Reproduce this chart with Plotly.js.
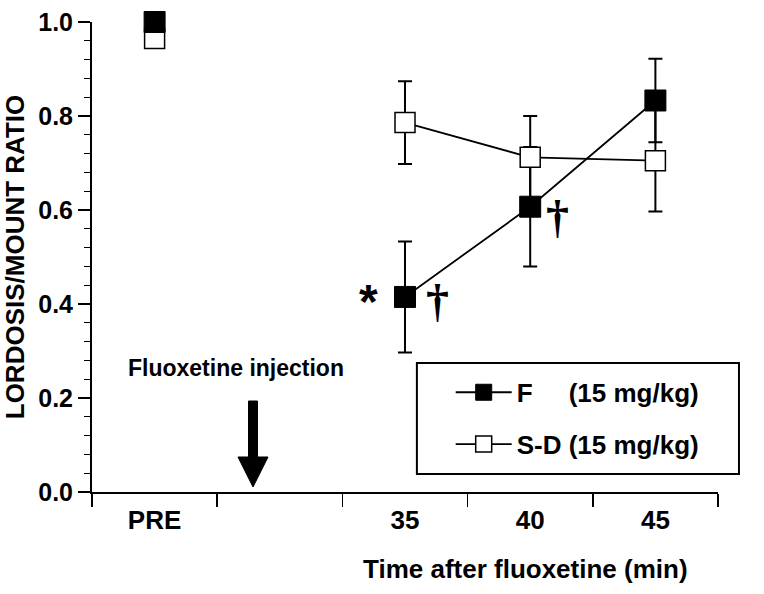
<!DOCTYPE html>
<html>
<head>
<meta charset="utf-8">
<script src="https://cdn.plot.ly/plotly-3.0.1.min.js"></script>
<style>html,body{margin:0;padding:0;background:#fff;}</style>
</head>
<body>
<div id="chart" style="width:764px;height:594px;"></div>
<script>
// ---- data ----
const tickLabels = ['PRE', '35', '40', '45'];
const slotOrder = ['PRE', 'inj', '35', '40', '45']; // x slots, incl. the injection period
const times = ['35', '40', '45'];
const fPre = 1.0;
const sdPre = 0.965;
const fMean = [0.415, 0.607, 0.833];
const fErr = [0.118, 0.127, 0.089];
const sdMean = [0.786, 0.712, 0.705];
const sdErr = [0.088, 0.088, 0.108];
const fName = 'F\u00A0\u00A0\u00A0\u00A0\u00A0(15 mg/kg)';
const sdName = 'S-D (15 mg/kg)';

const pos = c => slotOrder.indexOf(c) + 0.5;
const tx = times.map(pos);

const FONT = 'Liberation Sans, Arial, Helvetica, sans-serif';
const SERIF = 'Liberation Serif, Times New Roman, serif';

const errStyle = arr => ({type: 'data', array: arr, visible: true, color: '#000', thickness: 2, width: 7});
const hidden = {size: 1, color: 'rgba(0,0,0,0)'};

const traces = [
  {x: tx, y: sdMean, mode: 'markers', marker: hidden, error_y: errStyle(sdErr), showlegend: false, hoverinfo: 'skip', cliponaxis: false},
  {x: tx, y: fMean, mode: 'markers', marker: hidden, error_y: errStyle(fErr), showlegend: false, hoverinfo: 'skip', cliponaxis: false},
  {x: [pos('PRE')], y: [sdPre], mode: 'markers', showlegend: false, cliponaxis: false,
   marker: {symbol: 'square', size: 20, color: '#fff', line: {color: '#000', width: 1.5}}},
  {x: tx, y: sdMean, mode: 'lines+markers', name: sdName, legendgroup: 'sd', legendrank: 2, cliponaxis: false,
   line: {color: '#000', width: 1.8},
   marker: {symbol: 'square', size: 20, color: '#fff', line: {color: '#000', width: 1.5}}},
  {x: [pos('PRE')], y: [fPre], mode: 'markers', showlegend: false, cliponaxis: false,
   marker: {symbol: 'square', size: 21, color: '#000', line: {color: '#000', width: 1}}},
  {x: tx, y: fMean, mode: 'lines+markers', name: fName, legendgroup: 'f', legendrank: 1, cliponaxis: false,
   line: {color: '#000', width: 1.8},
   marker: {symbol: 'square', size: 21, color: '#000', line: {color: '#000', width: 1}}}
];

const layout = {
  width: 764, height: 594,
  margin: {l: 92, r: 46, t: 22, b: 102, autoexpand: false},
  paper_bgcolor: '#fff', plot_bgcolor: '#fff',
  font: {family: FONT, color: '#000'},
  xaxis: {
    range: [0, 5], showgrid: false, zeroline: false,
    showline: true, linewidth: 2, linecolor: '#000',
    tickmode: 'array', tickvals: tickLabels.map(pos), ticktext: tickLabels,
    ticks: '', ticklabelstandoff: 4,
    tickfont: {family: FONT, size: 26, weight: 700, color: '#000'},
    minor: {tickmode: 'array', tickvals: [0, 1, 2, 3, 4, 5], ticks: 'outside', ticklen: 13, tickwidth: 1.5, tickcolor: '#000', showgrid: false}
  },
  yaxis: {
    range: [0, 1], showgrid: false, zeroline: false,
    showline: true, linewidth: 2, linecolor: '#000',
    tick0: 0, dtick: 0.2, tickformat: '.1f',
    ticks: 'outside', ticklen: 12, tickwidth: 1.5, tickcolor: '#000',
    tickfont: {family: FONT, size: 25, weight: 700, color: '#000'},
    minor: {tick0: 0, dtick: 0.04, ticks: 'outside', ticklen: 6, tickwidth: 1.2, tickcolor: '#000', showgrid: false},
    title: {text: 'LORDOSIS/MOUNT RATIO', font: {family: FONT, size: 26, weight: 700, color: '#000'}, standoff: 8}
  },
  showlegend: true,
  legend: {
    x: 0.573, y: 0.262, xanchor: 'left', yanchor: 'top',
    bgcolor: 'rgba(0,0,0,0)', borderwidth: 0,
    traceorder: 'grouped', tracegroupgap: 15, itemwidth: 56,
    font: {family: FONT, size: 26, weight: 700, color: '#000'}
  },
  shapes: [
    {type: 'rect', xref: 'paper', yref: 'paper', x0: 0.519, x1: 1.0335, y0: 0.0383, y1: 0.2745,
     line: {color: '#000', width: 2}, fillcolor: 'rgba(0,0,0,0)', layer: 'below'},
    {type: 'path', xref: 'x', yref: 'y',
     path: 'M1.250,0.1936 L1.322,0.1936 L1.322,0.0745 L1.406,0.0745 L1.286,0.0106 L1.166,0.0745 L1.250,0.0745 Z',
     fillcolor: '#000', line: {color: '#000', width: 1}}
  ],
  annotations: [
    {xref: 'paper', yref: 'paper', x: 0.692, y: -0.164, xanchor: 'center', yanchor: 'middle', showarrow: false,
     text: 'Time after fluoxetine (min)', font: {family: FONT, size: 26, weight: 700, color: '#000'}},
    {xref: 'x', yref: 'y', x: 1.15, y: 0.263, xanchor: 'center', yanchor: 'middle', showarrow: false,
     text: 'Fluoxetine injection', font: {family: FONT, size: 23, weight: 700, color: '#000'}},
    {xref: 'x', yref: 'y', x: pos('35'), y: fMean[0], xshift: -37, yshift: -5, showarrow: false,
     text: '*', font: {family: FONT, size: 48, weight: 700, color: '#000'}},
    {xref: 'x', yref: 'y', x: pos('35'), y: fMean[0], xshift: 32, yshift: -4, showarrow: false,
     text: '\u2020', font: {family: SERIF, size: 46, weight: 700, color: '#000'}},
    {xref: 'x', yref: 'y', x: pos('40'), y: fMean[1], xshift: 27, yshift: -10, showarrow: false,
     text: '\u2020', font: {family: SERIF, size: 46, weight: 700, color: '#000'}}
  ]
};

Plotly.newPlot('chart', traces, layout, {displayModeBar: false, staticPlot: true});
</script>
</body>
</html>
